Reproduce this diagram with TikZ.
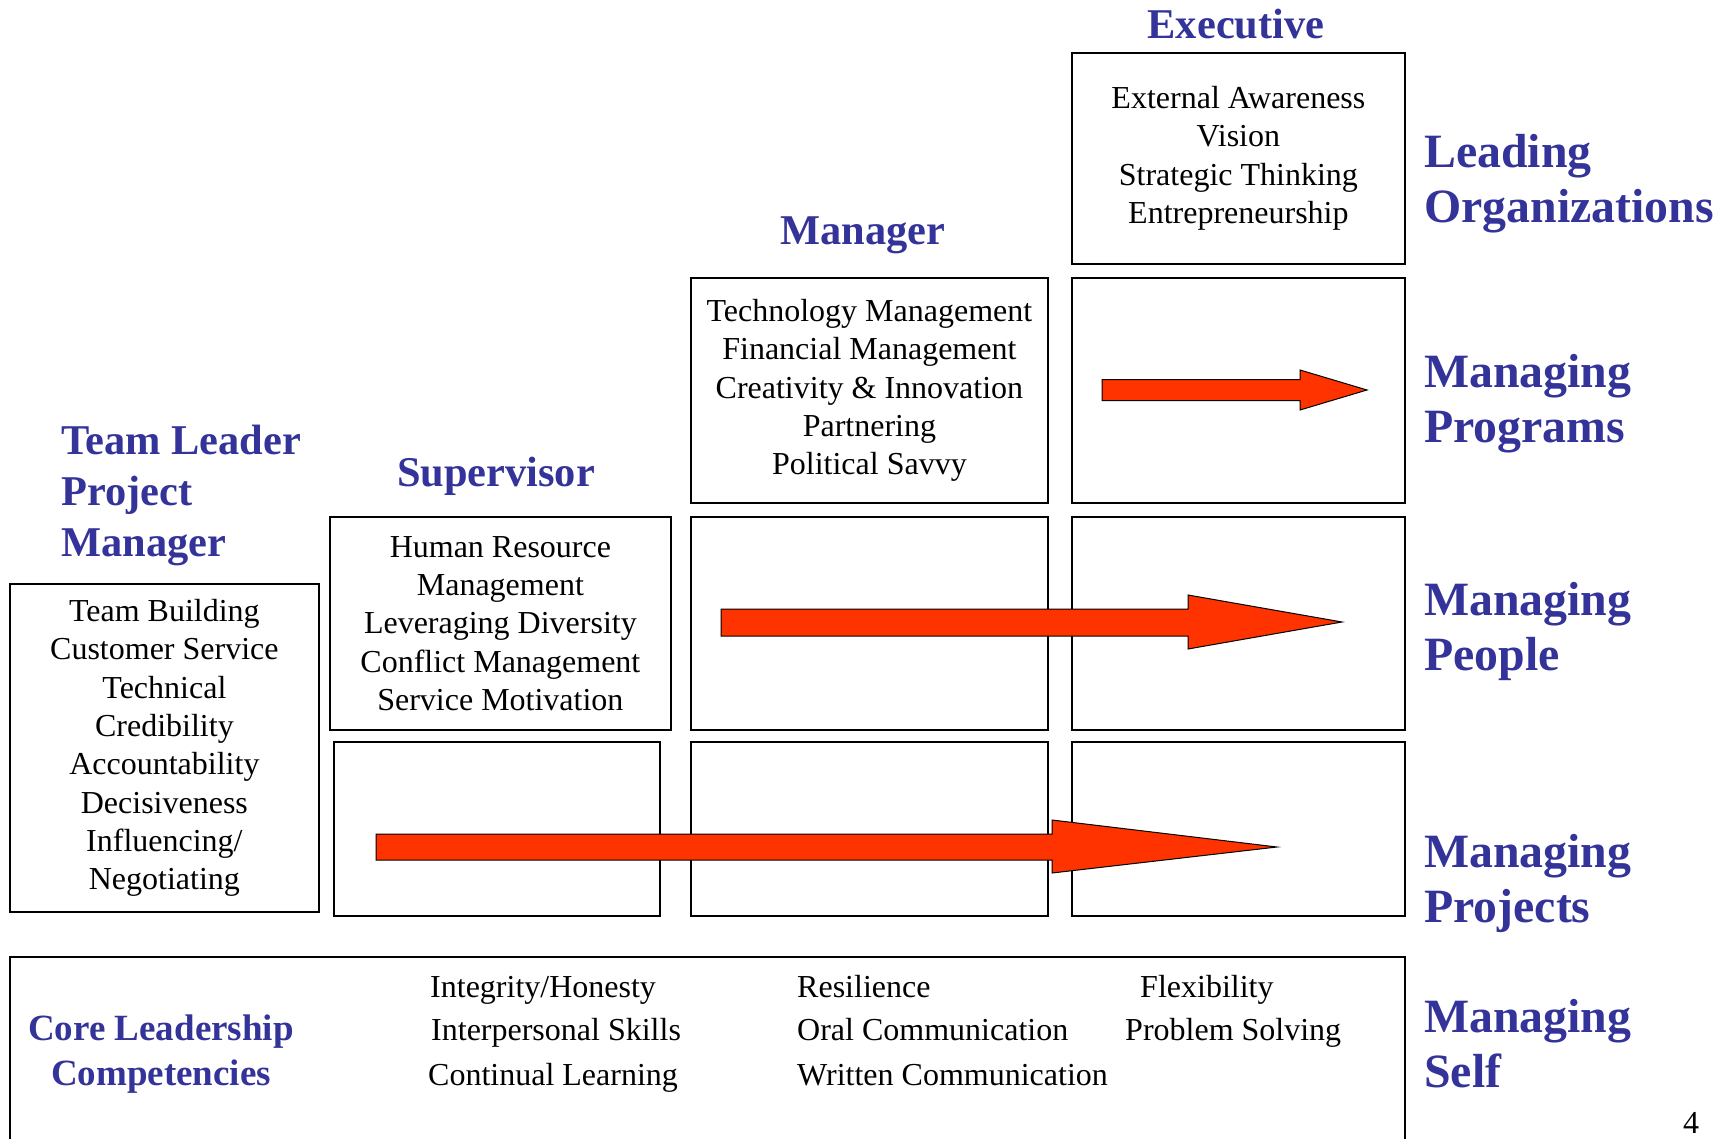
\documentclass[tikz,border=0pt]{standalone}
\usepackage{fontspec}
\setmainfont{Liberation Serif}
\usetikzlibrary{positioning}
\definecolor{headblue}{HTML}{333399}
\definecolor{arrowred}{HTML}{FF3300}

\begin{document}
\begin{tikzpicture}[x=1pt,y=-1pt,
  box/.style={draw,line width=1.8pt,rectangle,anchor=north west,align=center,inner sep=0pt,
    font=\fontsize{32}{38.3}\selectfont},
  item/.style={anchor=base west,inner sep=0pt,font=\fontsize{32}{38.3}\selectfont},
  head/.style={text=headblue,inner sep=0pt,font=\bfseries\fontsize{42.4}{51}\selectfont},
  level/.style={text=headblue,inner sep=0pt,anchor=base west,align=left,
    font=\bfseries\fontsize{47.8}{55}\selectfont},
  bigarrow/.style={fill=arrowred,draw=black,line width=1pt,line join=miter}]
  \clip (0,0) rectangle (1731,1139);

  % executive column
  \node[box,minimum width=333pt,minimum height=211pt] (exorg) at (1071,52)
    {External Awareness\\Vision\\Strategic Thinking\\Entrepreneurship};
  \node[box,minimum width=333pt,minimum height=225pt] (exprog) at (1071,277) {};
  \node[box,minimum width=333pt,minimum height=213pt] (expeople) at (1071,516) {};
  \node[box,minimum width=333pt,minimum height=174pt] (exproj) at (1071,741) {};

  % manager column
  \node[box,minimum width=357pt,minimum height=225pt] (mgprog) at (690,277)
    {Technology Management\\Financial Management\\Creativity \& Innovation\\Partnering\\Political Savvy};
  \node[box,minimum width=357pt,minimum height=213pt] (mgpeople) at (690,516) {};
  \node[box,minimum width=357pt,minimum height=174pt] (mgproj) at (690,741) {};

  % supervisor column
  \node[box,minimum width=341pt,minimum height=213pt] (svpeople) at (329,516)
    {Human Resource\\Management\\Leveraging Diversity\\Conflict Management\\Service Motivation};
  \node[box,minimum width=326pt,minimum height=174pt] (svproj) at (333,741) {};

  % team leader
  \node[box,minimum width=309pt,minimum height=328pt] (tlbox) at (9,583)
    {Team Building\\Customer Service\\Technical\\Credibility\\Accountability\\Decisiveness\\Influencing/\\Negotiating};

  % core row
  \node[box,minimum width=1395pt,minimum height=300pt] (core) at (9,956) {};

  % column heads (base of a multi-line node is its last line)
  \node[head,anchor=base] (exec) at (1236,39) {Executive};
  \node[head,anchor=base] (mgr) at (863,245) {Manager};
  \node[head,anchor=base] (sup) at (496,486) {Supervisor};
  \node[head,anchor=base west,align=left] (tl) at (61,556) {Team Leader\\Project\\Manager};

  % levels on the right
  \node[level] (lead) at (1424,223) {Leading\\Organizations};
  \node[level] (prog) at (1424,442) {Managing\\Programs};
  \node[level] (people) at (1424,670) {Managing\\People};
  \node[level] (proj) at (1424,922) {Managing\\Projects};
  \node[level] (self) at (1424,1087) {Managing\\Self};

  % core competencies
  \node[anchor=base,align=center,inner sep=0pt,text=headblue,
    font=\bfseries\fontsize{37}{45}\selectfont] (corelbl) at (161,1085) {Core Leadership\\Competencies};
  \node[item] (c11) at (430,997) {Integrity/Honesty};
  \node[item] (c12) at (431,1040) {Interpersonal Skills};
  \node[item] (c13) at (428,1085) {Continual Learning};
  \node[item] (c21) at (797,997) {Resilience};
  \node[item] (c22) at (797,1040) {Oral Communication};
  \node[item] (c23) at (797,1085) {Written Communication};
  \node[item] (c31) at (1140,997) {Flexibility};
  \node[item] (c32) at (1125,1040) {Problem Solving};

  \node[anchor=base,inner sep=0pt,font=\fontsize{32}{38}\selectfont] (pagenum) at (1691,1133) {4};

  % growth arrows
  \draw[bigarrow] (1102,379.5) -- (1300,379.5) -- (1300,370) -- (1367,390)
    -- (1300,410) -- (1300,400.5) -- (1102,400.5) -- cycle;
  \draw[bigarrow] (721,609) -- (1188,609) -- (1188,595) -- (1342,622)
    -- (1188,649) -- (1188,636) -- (721,636) -- cycle;
  \draw[bigarrow] (376,834) -- (1052,834) -- (1052,820) -- (1277,847)
    -- (1052,873) -- (1052,860) -- (376,860) -- cycle;
\end{tikzpicture}
\end{document}
